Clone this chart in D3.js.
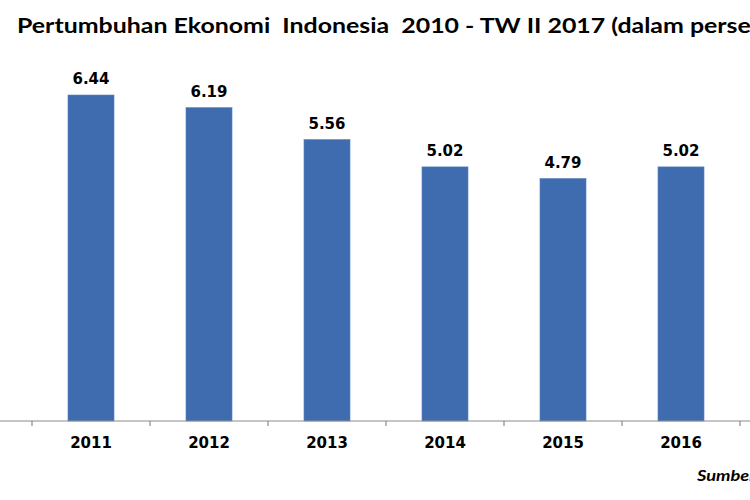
<!DOCTYPE html>
<html><head><meta charset="utf-8">
<script src="https://cdn.jsdelivr.net/npm/d3@7"></script>
<style>body{margin:0;background:#fff;overflow:hidden}svg{display:block}</style>
</head><body>
<svg id="c" width="750" height="500"></svg>
<script>
const years = ["2011","2012","2013","2014","2015","2016"];
const growth = [6.44, 6.19, 5.56, 5.02, 4.79, 5.02];
const valueLabels = ["6.44","6.19","5.56","5.02","4.79","5.02"];
const titleText = "Pertumbuhan Ekonomi  Indonesia  2010 - TW II 2017 (dalam persen)";
const sourceText = "Sumber: BPS";

const svg = d3.select("#c");
const x = d3.scaleBand().domain(years).range([32, 740]).paddingInner(0.61).paddingOuter(0.305);
const y = d3.scaleLinear().domain([0, 6.44]).range([421, 95]);

// title (horizontally stretched like the reference)
const titleStretch = 1.215;
svg.append("text").attr("transform", `translate(17,33) scale(${titleStretch},1)`)
  .attr("font-family", "Lato, 'Open Sans', sans-serif").attr("font-weight", "bold")
  .attr("font-size", 20.5).attr("fill", "#000").style("white-space","pre").text(titleText);

// bars
svg.selectAll("rect.bar").data(growth).join("rect").attr("class","bar")
  .attr("x", (d,i) => x(years[i])).attr("width", x.bandwidth())
  .attr("y", d => y(d)).attr("height", d => y(0) - y(d))
  .attr("fill", "#3F6BAF").attr("stroke", "#5A82C0").attr("stroke-width", 0.6);

// value labels
svg.selectAll("text.val").data(growth).join("text").attr("class","val")
  .attr("x", (d,i) => x(years[i]) + x.bandwidth()/2).attr("y", d => y(d) - 11)
  .attr("text-anchor","middle").attr("font-family","'DejaVu Sans', Verdana, sans-serif")
  .attr("font-weight","bold").attr("font-size", 15).attr("fill","#000")
  .text((d,i) => valueLabels[i]);

// axis line
svg.append("line").attr("x1", 0).attr("x2", 750).attr("y1", y(0)).attr("y2", y(0))
  .attr("stroke", "#8c8c8c").attr("stroke-width", 1.2);
// tick marks at band boundaries
const bounds = years.map((c,i) => 32 + i*x.step());
bounds.push(32 + years.length * x.step());
svg.selectAll("line.tick").data(bounds).join("line").attr("class","tick")
  .attr("x1", d => d).attr("x2", d => d).attr("y1", y(0)).attr("y2", y(0) + 5)
  .attr("stroke", "#8c8c8c").attr("stroke-width", 1.2);

// category labels
svg.selectAll("text.cat").data(years).join("text").attr("class","cat")
  .attr("x", d => x(d) + x.bandwidth()/2).attr("y", 448)
  .attr("text-anchor","middle").attr("font-family","'DejaVu Sans', Verdana, sans-serif")
  .attr("font-weight","bold").attr("font-size", 15).attr("fill","#000").text(d => d);

// source
svg.append("text").attr("transform", `translate(697,481) scale(${titleStretch},1)`)
  .attr("font-family","Lato, 'Open Sans', sans-serif").attr("font-weight","bold")
  .attr("font-style","italic").attr("font-size", 15).attr("fill","#000").text(sourceText);
</script>
</body></html>
